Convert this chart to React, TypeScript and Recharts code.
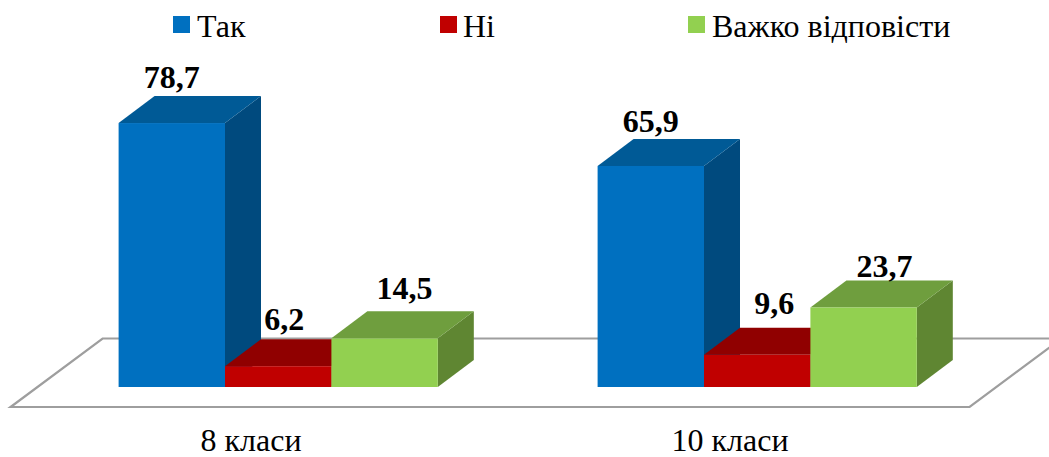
import React from "react";
import { BarChart, Bar, XAxis, YAxis, Legend, LabelList, ReferenceArea } from "recharts";

const categories = ["8 класи", "10 класи"];
const tak = [78.7, 65.9];
const ni = [6.2, 9.6];
const hard = [14.5, 23.7];
const seriesNames = ["Так", "Ні", "Важко відповісти"];

const rows = categories.map((name, i) => ({ name, tak: tak[i], ni: ni[i], hard: hard[i] }));

const FONT = "'Liberation Serif', 'Times New Roman', serif";
const DX = 36;
const DY = 27;

const palette = {
  tak: { front: "#0070C0", top: "#005A96", side: "#004A7E" },
  ni: { front: "#C00000", top: "#900000", side: "#7A0000" },
  hard: { front: "#92D050", top: "#6F9E3E", side: "#5F8632" },
};

// hand placement of data labels relative to the bar's centre and top
const labelShift: Record<string, { dx: number; dy: number }[]> = {
  tak: [{ dx: 0, dy: -35 }, { dx: 0, dy: -34 }],
  ni: [{ dx: 6, dy: -36 }, { dx: 17, dy: -41 }],
  hard: [{ dx: 20, dy: -39 }, { dx: 21, dy: -31 }],
};

const legendX = [173, 440, 688];

function Box3D(props: any) {
  const { x, y, width, height, colors } = props;
  const r = x + width;
  const b = y + height;
  return (
    <g>
      <polygon points={`${r},${y} ${r + DX},${y - DY} ${r + DX},${b - DY} ${r},${b}`} fill={colors.side} />
      <polygon points={`${x},${y} ${x + DX},${y - DY} ${r + DX},${y - DY} ${r},${y}`} fill={colors.top} />
      <rect x={x} y={y} width={width} height={height} fill={colors.front} />
    </g>
  );
}

function Floor(props: any) {
  const { x, y, width, height } = props;
  const base = y + height;
  const fy = base + 20;
  const by = base - 48.5;
  const fl = x - 28;
  const fr = x + width - 27;
  const pts = `${fl},${fy} ${fr},${fy} ${fr + 92},${by} ${fl + 92},${by}`;
  return <polygon points={pts} fill="#fff" stroke="#9E9E9E" strokeWidth={2.2} />;
}

function makeLabel(key: string) {
  return function DataLabel(props: any) {
    const { x, y, width, value, index } = props;
    const s = labelShift[key][index];
    return (
      <text
        x={x + width / 2 + s.dx}
        y={y + s.dy}
        textAnchor="middle"
        fontFamily={FONT}
        fontWeight="bold"
        fontSize={32}
        fill="#000"
      >
        {String(value).replace(".", ",")}
      </text>
    );
  };
}

function CategoryTick(props: any) {
  const { x, y, payload } = props;
  return (
    <text x={x - 27} y={y + 56} textAnchor="middle" fontFamily={FONT} fontSize={32} fill="#000">
      {payload.value}
    </text>
  );
}

function LegendRow(props: any) {
  const { payload } = props;
  return (
    <div style={{ position: "relative", width: 1049, height: 50 }}>
      {(payload || []).map((p: any) => {
        const i = seriesNames.indexOf(p.value);
        return (
          <div key={p.value} style={{ position: "absolute", left: legendX[i], top: 0, whiteSpace: "nowrap" }}>
            <span
              style={{ position: "absolute", left: 0, top: 16, width: 17, height: 17, background: p.color }}
            />
            <span
              style={{
                position: "absolute",
                left: i === 1 ? 23 : 24,
                top: 8,
                fontFamily: FONT,
                fontSize: 32,
                lineHeight: "36px",
                color: "#000",
              }}
            >
              {p.value}
            </span>
          </div>
        );
      })}
    </div>
  );
}

const series = [
  { key: "tak", name: seriesNames[0], colors: palette.tak },
  { key: "ni", name: seriesNames[1], colors: palette.ni },
  { key: "hard", name: seriesNames[2], colors: palette.hard },
];

export default function App() {
  return (
    <div style={{ position: "absolute", left: 0, top: 0, width: 1049, height: 457, overflow: "hidden" }}>
      <BarChart
        width={1049}
        height={457}
        data={rows}
        margin={{ top: 51.6, right: 52.4, bottom: 0, left: 38.6 }}
        barGap={0}
        barSize={106.4}
      >
        <XAxis dataKey="name" height={70} axisLine={false} tickLine={false} tick={<CategoryTick />} />
        <YAxis hide domain={[0, 100]} />
        <ReferenceArea y1={0} y2={1} shape={<Floor />} ifOverflow="visible" />
        <Legend
          verticalAlign="middle"
          align="center"
          layout="horizontal"
          wrapperStyle={{ top: 0, left: 0, width: 1049, height: 50 }}
          content={<LegendRow />}
        />
        {series.map((s) => (
          <Bar
            key={s.key}
            dataKey={s.key}
            name={s.name}
            fill={s.colors.front}
            isAnimationActive={false}
            shape={(p: any) => <Box3D {...p} colors={s.colors} />}
          >
            <LabelList dataKey={s.key} content={makeLabel(s.key)} />
          </Bar>
        ))}
      </BarChart>
    </div>
  );
}
